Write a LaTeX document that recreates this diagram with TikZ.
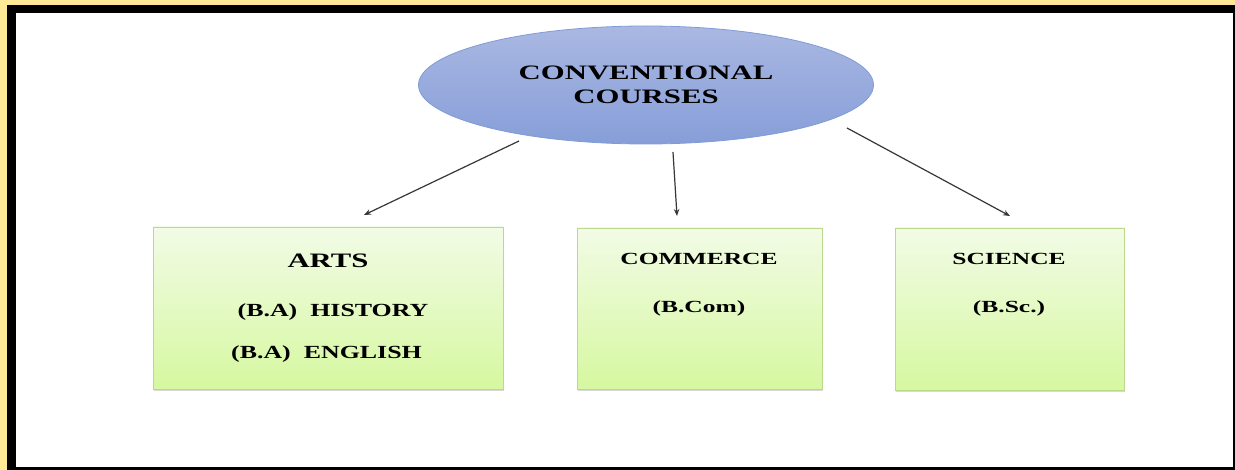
\documentclass[tikz,border=0pt]{standalone}
\usepackage{fontspec}
\usetikzlibrary{arrows.meta,shadows,shapes.geometric}
\newfontfamily\wideA{Liberation Serif}[FakeStretch=1.5, UprightFont=* Bold]
\newfontfamily\wideB{Liberation Serif}[FakeStretch=1.4, UprightFont=* Bold]
\definecolor{frameyellow}{RGB}{255,232,150}
\definecolor{elltop}{RGB}{170,184,226}
\definecolor{ellbot}{RGB}{134,158,216}
\definecolor{elldraw}{RGB}{128,156,214}
\definecolor{boxtop}{RGB}{242,251,230}
\definecolor{boxbot}{RGB}{214,248,160}
\definecolor{boxdraw}{RGB}{188,216,140}
\definecolor{arrowgray}{RGB}{55,55,55}
\tikzset{
  ell/.style={ellipse, draw=elldraw, line width=0.8pt, top color=elltop, bottom color=ellbot, minimum width=455pt, minimum height=118pt, inner sep=0pt},
  catbox/.style={rectangle, draw=boxdraw, line width=0.9pt, top color=boxtop, bottom color=boxbot, inner sep=0pt, drop shadow={opacity=0.3, shadow xshift=1.2pt, shadow yshift=-1.8pt}},
  bigtxt/.style={anchor=base, inner sep=0pt, font=\wideA\fontsize{20.5}{24}\selectfont},
  midtxt/.style={anchor=base, inner sep=0pt, font=\wideB\fontsize{18.5}{22}\selectfont},
  smalltxt/.style={anchor=base, inner sep=0pt, font=\wideA\fontsize{17}{20}\selectfont},
  conn/.style={draw=arrowgray, line width=1.2pt, -{Stealth[length=7pt,width=5.5pt]}}
}
\begin{document}
\begin{tikzpicture}[x=1pt,y=-1pt]
\useasboundingbox (0,0) rectangle (1235,470);
% frame
\fill[frameyellow] (0,0) rectangle (1235,470);
\fill[black] (7,5) rectangle (1235,470);
\fill[white] (16,13) rectangle (1233,467);
% top ellipse
\node[ell] (cc) at (646,85) {};
\node[bigtxt] (cc1) at (646,80) {CONVENTIONAL};
\node[bigtxt] (cc2) at (646,104) {COURSES};
% boxes
\node[catbox, minimum width=350pt, minimum height=162pt] (arts) at (328,308) {};
\node[catbox, minimum width=245pt, minimum height=161pt] (comm) at (699.5,308.5) {};
\node[catbox, minimum width=229pt, minimum height=162pt] (sci) at (1009.5,309) {};
% box texts
\node[bigtxt] (arts1) at (328,268) {ARTS};
\node[midtxt] (arts2) at (333,317) {(B.A)\ \ HISTORY};
\node[midtxt] (arts3) at (326.5,359) {(B.A)\ \ ENGLISH};
\node[smalltxt] (comm1) at (699,265) {COMMERCE};
\node[smalltxt] (comm2) at (699,313) {(B.Com)};
\node[smalltxt] (sci1) at (1009,265) {SCIENCE};
\node[smalltxt] (sci2) at (1009,313) {(B.Sc.)};
% connectors
\coordinate (l0) at (519,141);
\coordinate (l1) at (364,215);
\coordinate (m0) at (673,152);
\coordinate (m1) at (677,216);
\coordinate (r0) at (847,128);
\coordinate (r1) at (1010,216);
\draw[conn] (l0) -- (l1);
\draw[conn] (m0) -- (m1);
\draw[conn] (r0) -- (r1);
\end{tikzpicture}
\end{document}
